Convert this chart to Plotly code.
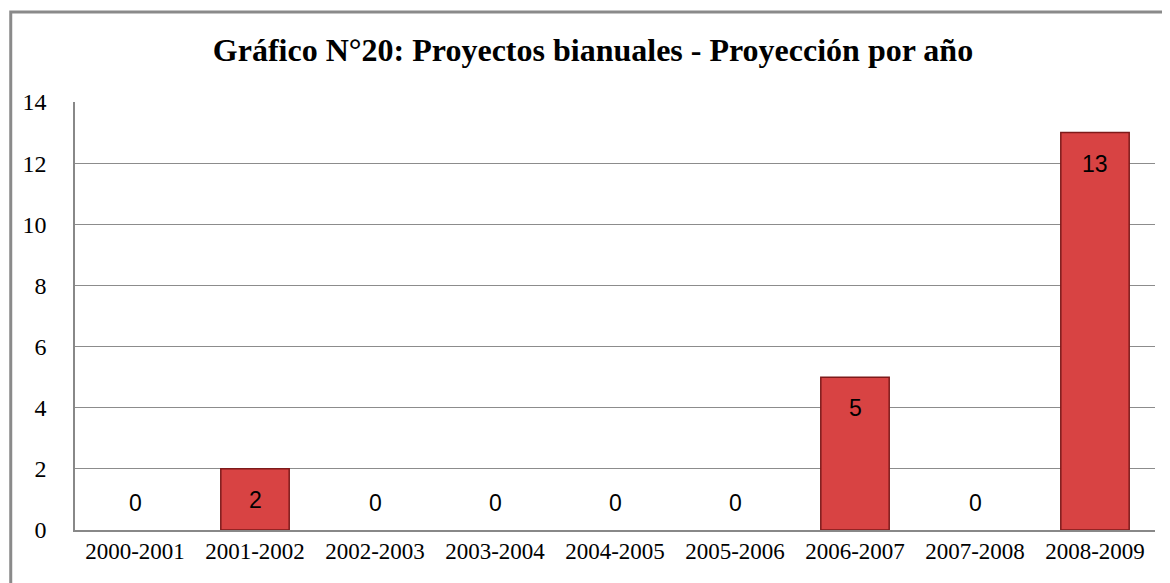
import plotly.graph_objects as go

periodos = ['2000-2001', '2001-2002', '2002-2003', '2003-2004', '2004-2005',
            '2005-2006', '2006-2007', '2007-2008', '2008-2009']
proyectos = [0, 2, 0, 0, 0, 0, 5, 0, 13]

title = 'Gráfico N°20: Proyectos bianuales - Proyección por año'

fig = go.Figure()

fig.add_trace(go.Bar(
    x=periodos, y=proyectos,
    marker=dict(color='#d84343',
                line=dict(color='#7e1a1a', width=[1.5 if v > 0 else 0 for v in proyectos])),
    width=0.57,
    hoverinfo='x+y',
))

# data labels: inside the top of each bar, zeros just above the axis
for p, v in zip(periodos, proyectos):
    fig.add_annotation(x=p, y=v, text=str(v), showarrow=False, yanchor='middle',
                       yshift=27 if v == 0 else -31,
                       font=dict(family='Liberation Sans', size=23, color='black'))

fig.update_layout(
    title=dict(text='<b>' + title + '</b>', x=0.5, xanchor='center', y=0.928, yanchor='middle',
               font=dict(family='Liberation Serif', size=32, color='black')),
    width=1170, height=583,
    margin=dict(l=67, r=23, t=94, b=61, autoexpand=False),
    plot_bgcolor='white', paper_bgcolor='white',
    showlegend=False,
    bargap=0.43,
    font=dict(family='Liberation Serif', size=22, color='black'),
    xaxis=dict(showline=True, linecolor='#888888', linewidth=1.5, ticks='', automargin=False,
               tickfont=dict(family='Liberation Serif', size=23)),
    yaxis=dict(range=[0, 14], dtick=2, showgrid=True, gridcolor='#8c8c8c', gridwidth=1,
               showline=True, linecolor='#888888', linewidth=1.5, ticks='', automargin=False,
               zeroline=False, ticklabelstandoff=22,
               tickfont=dict(family='Liberation Serif', size=24)),
    shapes=[dict(type='rect', xref='paper', yref='paper',
                 x0=-0.0595, x1=1.09, y0=-0.2, y1=1.21,
                 line=dict(color='#8a8a8a', width=3), fillcolor='rgba(0,0,0,0)', layer='below')],
)

fig.write_html('out.html')
